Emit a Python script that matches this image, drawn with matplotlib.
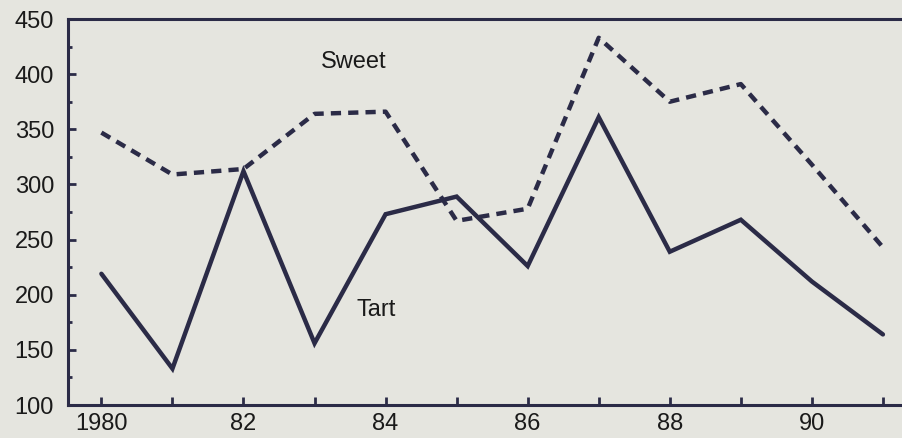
import matplotlib
matplotlib.use("Agg")
import matplotlib.pyplot as plt
from matplotlib.ticker import MultipleLocator, FixedLocator

plt.rcParams['font.family'] = ['Liberation Sans', 'DejaVu Sans']

years = [1980, 1981, 1982, 1983, 1984, 1985, 1986, 1987, 1988, 1989, 1990, 1991]
sweet = [347, 309, 314, 364, 366, 267, 278, 433, 375, 391, 318, 243]
tart = [219, 133, 312, 156, 273, 289, 226, 361, 239, 268, 212, 164]
xtick_pos = [1980, 1982, 1984, 1986, 1988, 1990]
xtick_labels = ["1980", "82", "84", "86", "88", "90"]
yticks = [100, 150, 200, 250, 300, 350, 400, 450]

bg = "#e5e5df"
ink = "#2b2b47"

fig = plt.figure(figsize=(9.03, 4.38), dpi=100, facecolor=bg)
ax = fig.add_axes([0.0753, 0.0753, 0.93, 0.8813])
ax.set_facecolor(bg)

ax.plot(years, tart, color=ink, lw=3.2, solid_joinstyle='miter', solid_capstyle='round')
ax.plot(years, sweet, color=ink, lw=3.2, dashes=(2.3, 1.6), dash_capstyle='butt')

ax.set_xlim(1979.53, 1991.35)
ax.set_ylim(100, 450)
ax.xaxis.set_major_locator(FixedLocator(xtick_pos))
ax.set_xticklabels(xtick_labels)
ax.xaxis.set_minor_locator(MultipleLocator(1))
ax.set_yticks(yticks)
ax.yaxis.set_minor_locator(MultipleLocator(25))

ax.tick_params(axis='both', which='major', direction='in', length=6, width=2,
               color=ink, labelsize=17, labelcolor='#1a1a1a')
ax.tick_params(axis='both', which='minor', direction='in', length=3, width=2, color=ink)
ax.tick_params(axis='y', which='both', left=True, right=False)
ax.tick_params(axis='y', which='major', pad=10)
ax.tick_params(axis='x', which='both', bottom=True, top=False)
ax.tick_params(axis='x', which='major', pad=6)
ax.tick_params(axis='x', which='minor', length=6)

for s in ['left', 'bottom', 'top']:
    ax.spines[s].set_color(ink)
    ax.spines[s].set_linewidth(2.2)
ax.spines['right'].set_visible(False)

ax.text(1983.09, 411, "Sweet", fontsize=17, color='#1a1a1a', ha='left', va='center')
ax.text(1983.59, 186, "Tart", fontsize=17, color='#1a1a1a', ha='left', va='center')

fig.savefig("out.png", dpi=100, facecolor=bg)
